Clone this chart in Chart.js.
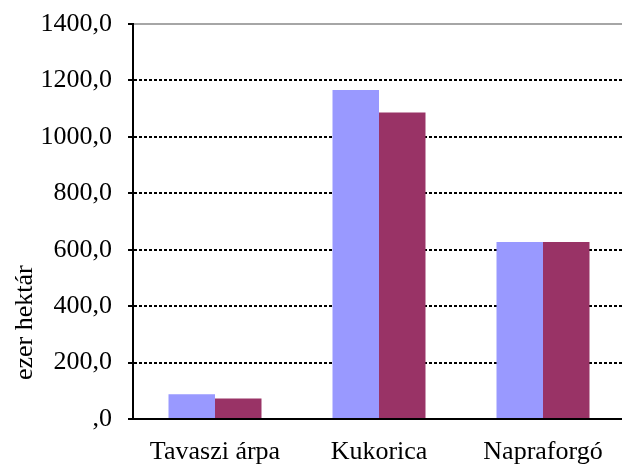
<!DOCTYPE html>
<html>
<head>
<meta charset="utf-8">
<script src="https://cdn.jsdelivr.net/npm/chart.js@4/dist/chart.umd.min.js"></script>
<style>
html,body{margin:0;padding:0;background:#fff;overflow:hidden;}
#wrap{width:630px;height:466px;}
</style>
</head>
<body>
<div id="wrap"><canvas id="c" width="630" height="466"></canvas></div>
<script>
const categories = ['Tavaszi árpa', 'Kukorica', 'Napraforgó'];
const series1 = [88, 1166, 627];
const series2 = [73, 1086, 627];
const yTickLabels = [',0', '200,0', '400,0', '600,0', '800,0', '1000,0', '1200,0', '1400,0'];
const yTitle = 'ezer hektár';

const FONT = 'Liberation Serif, Times New Roman, serif';

new Chart(document.getElementById('c'), {
  type: 'bar',
  data: {
    labels: categories,
    datasets: [
      { data: series1, backgroundColor: '#9999FF', borderWidth: 0 },
      { data: series2, backgroundColor: '#993366', borderWidth: 0 }
    ]
  },
  options: {
    responsive: false,
    animation: false,
    events: [],
    layout: { padding: { top: 24, right: 5, left: 0, bottom: 0 } },
    plugins: { legend: { display: false }, tooltip: { enabled: false } },
    datasets: { bar: { categoryPercentage: 0.567, barPercentage: 1.0 } },
    scales: {
      x: {
        afterFit: (s) => { s.height = 47; },
        grid: { display: false, drawTicks: false },
        border: { display: true, color: '#000', width: 2 },
        ticks: { color: '#000', font: { family: FONT, size: 26 }, padding: 18, maxRotation: 0 }
      },
      y: {
        min: 0, max: 1400,
        afterFit: (s) => { s.width = 133; s.paddingTop = 0; s.paddingBottom = 0; },
        title: {
          display: true,
          text: '      ' + yTitle,
          align: 'start',
          color: '#000',
          font: { family: FONT, size: 26 },
          padding: { top: 10, bottom: 0 }
        },
        ticks: {
          stepSize: 200,
          color: '#000',
          font: { family: FONT, size: 26 },
          padding: 16,
          callback: (v, i) => yTickLabels[i]
        },
        grid: {
          color: (ctx) => (ctx.tick && ctx.tick.value === 1400) ? '#a6a6a6' : (ctx.tick && ctx.tick.value === 0 ? 'rgba(0,0,0,0)' : '#000'),
          lineWidth: 2,
          tickColor: '#000',
          tickWidth: 2,
          tickLength: 5,
          tickBorderDash: []
        },
        border: {
          display: true, color: '#000', width: 2,
          dash: (ctx) => (ctx.tick && ctx.tick.value !== 1400) ? [3, 2] : []
        }
      }
    }
  }
});
</script>
</body>
</html>
